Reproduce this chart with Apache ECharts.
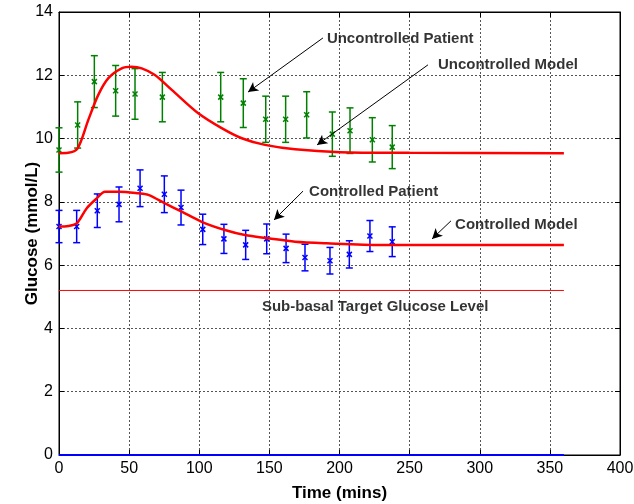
<!DOCTYPE html>
<html>
<head>
<meta charset="utf-8">
<script src="https://cdn.jsdelivr.net/npm/echarts@6/dist/echarts.min.js"></script>
<style>
  html, body { margin: 0; padding: 0; background: #fff; }
  #main { width: 634px; height: 504px; }
</style>
</head>
<body>
<div id="main"></div>
<script>
// patient data (mean +/- error)
var uncTimes = [0, 13.3, 25.2, 40.4, 54.2, 73.7, 115.3, 131.4, 147.4, 161.6, 176.6, 194.9, 207.5, 223.4, 237.6]
var uncMean  = [9.64, 10.43, 11.8, 11.51, 11.41, 11.31, 11.31, 11.12, 10.61, 10.61, 10.75, 10.14, 10.25, 9.96, 9.73]
var uncErr   = [0.7, 0.73, 0.82, 0.8, 0.8, 0.78, 0.78, 0.77, 0.73, 0.73, 0.73, 0.7, 0.72, 0.7, 0.68]

var ctlTimes = [0, 12.6, 27.3, 42.8, 57.8, 75.1, 87, 102.5, 117.6, 133.1, 148.1, 161.9, 175.4, 193.2, 207, 221.7, 237.6]
var ctlMean  = [7.22, 7.22, 7.72, 7.92, 8.43, 8.24, 7.82, 7.13, 6.83, 6.64, 6.83, 6.53, 6.24, 6.14, 6.34, 6.92, 6.74]
var ctlErr   = [0.51, 0.51, 0.53, 0.55, 0.58, 0.58, 0.55, 0.48, 0.46, 0.46, 0.47, 0.45, 0.42, 0.42, 0.43, 0.49, 0.47]

// model curves
var uncModelT = [0, 6.5, 13.3, 20.9, 28, 35.2, 44.7, 51.8, 59, 68.4, 80.4, 99.3, 116, 130.3, 146.9, 168.3, 200.4, 250, 360]
var uncModelG = [9.54, 9.55, 9.69, 10.59, 11.38, 11.91, 12.22, 12.27, 12.22, 12.01, 11.54, 10.8, 10.33, 10.01, 9.8, 9.66, 9.57, 9.55, 9.54]

var ctlModelT = [0, 6.6, 12.6, 19.8, 26.9, 32.8, 42.8, 56.5, 63.7, 75.6, 87.5, 101.7, 118.3, 132.6, 149.2, 168.3, 190.9, 230, 360]
var ctlModelG = [7.22, 7.24, 7.32, 7.8, 8.11, 8.32, 8.32, 8.27, 8.22, 7.95, 7.69, 7.37, 7.11, 6.95, 6.85, 6.74, 6.69, 6.64, 6.64]

var subBasal = 5.2
var endTime = 360

// annotations [label, textX, textY, arrowFromX, arrowFromY, arrowToX, arrowToY]
var notes = [
  ['Uncontrolled Patient', 191, 13.15, 188.2, 13.18, 134.8, 11.47],
  ['Uncontrolled Model', 270.2, 12.33, 263.1, 12.33, 184, 9.8],
  ['Controlled Patient', 178.3, 8.31, 174, 8.34, 153.3, 7.43],
  ['Controlled Model', 282.4, 7.27, 279.5, 7.4, 266, 6.83]
]
var subNote = ['Sub-basal Target Glucose Level', 144.7, 4.68]

var xTicks = [0, 400, 50]
var yTicks = [0, 14, 2]

var FONT = 'Liberation Sans, Arial, Helvetica, sans-serif'

var errData = function(t, m, e) {
    var res = []
    for (var i = 0; i < t.length; i++) {
        res.push([t[i], m[i] - e[i], m[i] + e[i], m[i]])
    }
    return res
}

var pairs = function(x, y) {
    var res = []
    for (var i = 0; i < x.length; i++) res.push([x[i], y[i]])
    return res
}

var errBar = function(color) {
    return function(params, api) {
        var t = api.value(0)
        var top = api.coord([t, api.value(2)])
        var bot = api.coord([t, api.value(1)])
        var mid = api.coord([t, api.value(3)])
        var w = 3.5, s = 2.5
        var st = { stroke: color, lineWidth: 1.5 }
        return {
            type: 'group',
            children: [
                { type: 'line', shape: { x1: top[0], y1: top[1], x2: bot[0], y2: bot[1] }, style: st },
                { type: 'line', shape: { x1: top[0] - w, y1: top[1], x2: top[0] + w, y2: top[1] }, style: st },
                { type: 'line', shape: { x1: bot[0] - w, y1: bot[1], x2: bot[0] + w, y2: bot[1] }, style: st },
                { type: 'line', shape: { x1: mid[0] - s, y1: mid[1] - s, x2: mid[0] + s, y2: mid[1] + s }, style: st },
                { type: 'line', shape: { x1: mid[0] - s, y1: mid[1] + s, x2: mid[0] + s, y2: mid[1] - s }, style: st }
            ]
        }
    }
}

var arrowLines = []
var noteLabels = []
for (var i = 0; i < notes.length; i++) {
    arrowLines.push([{ coord: [notes[i][3], notes[i][4]] }, { coord: [notes[i][5], notes[i][6]] }])
    noteLabels.push({ name: notes[i][0], value: [notes[i][1], notes[i][2]] })
}
noteLabels.push({ name: subNote[0], value: [subNote[1], subNote[2]] })

var gridLine = { show: true, lineStyle: { color: '#555', type: [2, 2], width: 1 } }
var boxLine = { show: true, onZero: false, lineStyle: { color: '#000', width: 1 } }
var tick = { show: true, inside: true, length: 5, lineStyle: { color: '#000' } }

var mychart = echarts.init(document.getElementById('main'))
mychart.setOption({
    animation: false,
    textStyle: { fontFamily: FONT },
    grid: {
        left: 59, right: 14, top: 12, bottom: 49, outerBoundsMode: 'none',
        show: true, borderColor: '#000', borderWidth: 1
    },
    xAxis: [
        {
            type: 'value', min: xTicks[0], max: xTicks[1], interval: xTicks[2],
            name: 'Time (mins)', nameLocation: 'middle', nameGap: 30, nameMoveOverlap: false,
            nameTextStyle: { fontSize: 17, fontWeight: 'bold', color: '#000', fontFamily: FONT },
            axisLine: boxLine, axisTick: tick, splitLine: gridLine,
            axisLabel: { fontSize: 16, color: '#000', margin: 6, fontFamily: FONT }
        },
        {
            type: 'value', position: 'top', min: xTicks[0], max: xTicks[1], interval: xTicks[2],
            axisLine: boxLine, axisTick: tick, splitLine: { show: false }, axisLabel: { show: false }
        }
    ],
    yAxis: [
        {
            type: 'value', min: yTicks[0], max: yTicks[1], interval: yTicks[2],
            name: 'Glucose (mmol/L)', nameLocation: 'middle', nameGap: 18, nameMoveOverlap: false,
            nameTextStyle: { fontSize: 17, fontWeight: 'bold', color: '#000', fontFamily: FONT },
            axisLine: boxLine, axisTick: tick, splitLine: gridLine,
            axisLabel: { fontSize: 16, color: '#000', margin: 6, fontFamily: FONT }
        },
        {
            type: 'value', position: 'right', min: yTicks[0], max: yTicks[1], interval: yTicks[2],
            axisLine: boxLine, axisTick: tick, splitLine: { show: false }, axisLabel: { show: false }
        }
    ],
    series: [
        {
            name: 'Zero', type: 'line', showSymbol: false, silent: true,
            data: [[0, 0], [endTime, 0]],
            lineStyle: { color: '#0000ff', width: 2 }
        },
        {
            name: 'Sub-basal', type: 'line', showSymbol: false, silent: true,
            data: [[0, subBasal], [endTime, subBasal]],
            lineStyle: { color: '#ff0000', width: 1 }
        },
        {
            name: 'Uncontrolled Patient', type: 'custom',
            renderItem: errBar('#008000'),
            data: errData(uncTimes, uncMean, uncErr),
            encode: { x: 0, y: [1, 2] }, z: 3
        },
        {
            name: 'Controlled Patient', type: 'custom',
            renderItem: errBar('#0000ff'),
            data: errData(ctlTimes, ctlMean, ctlErr),
            encode: { x: 0, y: [1, 2] }, z: 3
        },
        {
            name: 'Uncontrolled Model', type: 'line', showSymbol: false, silent: true,
            smooth: 0.3,
            data: pairs(uncModelT, uncModelG),
            lineStyle: { color: '#ff0000', width: 2.5 }, z: 4
        },
        {
            name: 'Controlled Model', type: 'line', showSymbol: false, silent: true,
            smooth: 0.3,
            data: pairs(ctlModelT, ctlModelG),
            lineStyle: { color: '#ff0000', width: 2.5 }, z: 4
        },
        {
            name: 'Notes', type: 'scatter', symbolSize: 0, silent: true, z: 6,
            data: noteLabels,
            label: {
                show: true, position: 'right', distance: 0, formatter: '{b}',
                fontSize: 15, fontWeight: 'bold', color: '#000', fontFamily: FONT
            },
            markLine: {
                silent: true, symbol: ['none', 'arrow'], symbolSize: [8, 10],
                label: { show: false },
                lineStyle: { color: '#000', width: 1, type: 'solid' },
                data: arrowLines
            }
        }
    ]
})
</script>
</body>
</html>
